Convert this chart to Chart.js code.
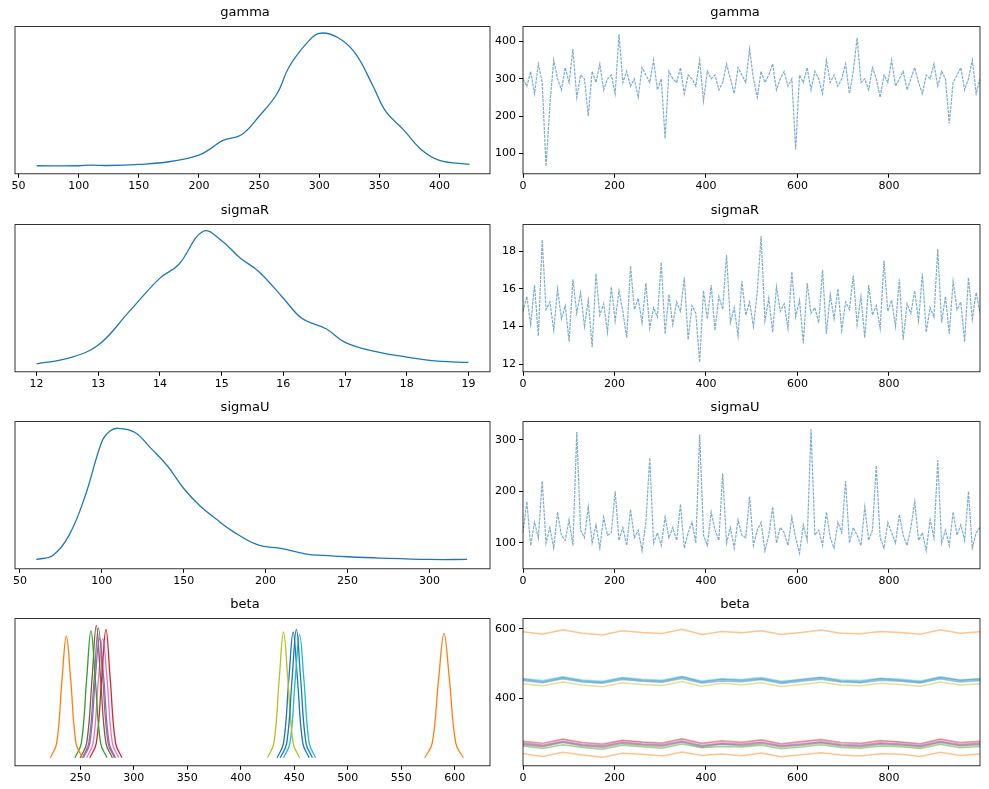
<!DOCTYPE html><html><head><meta charset="utf-8">
<script src="https://cdn.jsdelivr.net/npm/chart.js@4.4.1/dist/chart.umd.min.js"></script>
<style>body{margin:0;background:#fff;width:989px;height:789px;position:relative;overflow:hidden}
.c{position:absolute}</style></head><body>
<canvas id="c0" class="c"></canvas><canvas id="c1" class="c"></canvas>
<canvas id="c2" class="c"></canvas><canvas id="c3" class="c"></canvas>
<canvas id="c4" class="c"></canvas><canvas id="c5" class="c"></canvas>
<canvas id="c6" class="c"></canvas><canvas id="c7" class="c"></canvas>
<script>
// ---- data ----
const gammaKdeX=[65,100,110,125,150,175,200,210,220,235,250,265,275,290,300,315,330,345,355,370,385,400,425];
const gammaKdeY=[0.01,0.01,0.015,0.012,0.02,0.04,0.09,0.14,0.2,0.24,0.38,0.55,0.75,0.93,1.0,0.97,0.85,0.6,0.42,0.28,0.13,0.05,0.02];
const sigmaRKdeX=[12,12.5,13,13.5,14,14.3,14.7,15,15.3,15.6,16,16.3,16.7,17,17.5,18,18.5,19];
const sigmaRKdeY=[0.01,0.05,0.15,0.4,0.65,0.75,1.0,0.93,0.8,0.7,0.5,0.35,0.27,0.17,0.1,0.06,0.03,0.02];
const sigmaUKdeX=[60,70,80,90,100,105,110,120,130,140,150,160,170,180,195,210,225,235,250,270,300,323];
const sigmaUKdeY=[0.02,0.05,0.2,0.5,0.9,0.98,1.0,0.97,0.85,0.72,0.55,0.42,0.32,0.23,0.13,0.1,0.06,0.05,0.04,0.03,0.02,0.02];
const gammaTrace=[300,280,320,260,340,290,65,230,350,300,270,330,290,380,250,310,300,200,320,290,
340,270,300,310,260,420,290,320,280,300,250,330,310,290,350,270,300,140,320,300,
290,330,260,310,300,280,350,240,320,300,310,270,290,340,300,260,330,310,290,380,
300,250,320,290,310,340,270,300,320,280,300,110,310,290,330,270,320,300,260,350,
290,310,280,300,340,260,320,410,290,300,270,330,300,250,310,290,350,280,300,320,
270,300,330,290,260,310,300,340,280,320,300,180,290,310,330,270,300,350,260,300];
const sigmaRTrace=[14.8,15.6,14.1,16.2,13.5,18.6,14.9,15.3,13.8,16.0,14.4,15.1,13.2,16.5,14.7,15.8,14.0,15.4,12.9,16.8,
14.6,15.2,13.7,16.1,14.3,15.9,14.8,13.4,17.2,14.9,15.5,14.2,16.3,13.9,15.0,14.5,17.4,13.6,15.7,14.1,
15.3,14.8,16.6,13.3,15.1,14.7,12.1,15.9,14.4,16.2,13.8,15.6,14.9,17.8,14.2,15.0,13.5,16.4,14.6,15.3,
14.0,15.8,18.8,14.3,15.5,13.7,16.1,14.8,15.2,13.9,16.9,14.5,15.4,13.1,16.3,14.7,15.0,14.2,17.0,13.6,
15.7,14.4,16.0,13.8,15.3,14.9,16.7,14.1,15.6,13.4,16.2,14.6,15.1,13.9,17.5,14.8,15.4,14.0,16.5,13.3,
15.2,14.7,15.9,14.3,16.8,13.7,15.0,14.5,18.1,14.2,15.6,13.6,16.4,14.9,15.3,13.2,16.6,14.4,15.8,14.7];
const sigmaUTrace=[120,180,95,140,110,220,100,130,90,160,115,105,145,95,315,125,110,170,100,135,
90,150,115,120,200,105,130,95,165,110,125,85,140,265,100,120,95,150,110,130,
105,175,90,120,140,100,310,115,95,160,125,105,235,100,130,90,145,115,110,190,
95,125,140,85,115,170,100,130,120,95,150,110,80,135,105,320,115,125,95,160,
110,90,140,120,220,100,130,115,95,170,105,125,250,110,90,140,120,100,155,115,
95,130,180,105,120,85,145,110,260,100,125,95,160,115,135,105,200,90,120,130];
const betaColors=['#1f77b4','#ff7f0e','#2ca02c','#d62728','#9467bd','#8c564b','#e377c2','#7f7f7f','#bcbd22','#17becf','#1f77b4','#ff7f0e'];
const betaPeakX=[
[437,443,448,452,456,461,467],[222,228,233,237,241,246,252],[245,251,256,260,264,269,275],[259,265,270,274,278,283,289],
[253,259,264,268,272,277,283],[250,256,261,265,269,274,280],[256,262,267,271,275,280,286],[252,258,263,267,271,276,282],
[425,431,436,440,444,449,455],[440,446,451,455,459,464,470],[434,440,445,449,453,458,464],[572,579,585,590,595,601,608]];
const betaPeakY=[
[0.01,0.12,0.6,0.97,0.6,0.12,0.01],[0.01,0.12,0.6,0.92,0.6,0.12,0.01],[0.01,0.12,0.6,0.96,0.6,0.12,0.01],[0.01,0.12,0.6,0.97,0.6,0.12,0.01],
[0.01,0.12,0.6,0.9,0.6,0.12,0.01],[0.01,0.12,0.6,1.0,0.6,0.12,0.01],[0.01,0.12,0.6,0.9,0.6,0.12,0.01],[0.01,0.12,0.6,0.98,0.6,0.12,0.01],
[0.01,0.12,0.6,0.95,0.6,0.12,0.01],[0.01,0.12,0.6,0.93,0.6,0.12,0.01],[0.01,0.12,0.6,0.95,0.6,0.12,0.01],[0.01,0.12,0.6,0.94,0.6,0.12,0.01]];
const betaTraces=[
[455,448,460,450,446,458,452,449,461,447,454,451,457,446,453,459,450,448,456,452,447,460,451,455],
[240,232,244,236,230,241,238,233,245,235,239,234,242,231,237,243,236,233,240,238,232,244,235,239],
[262,255,266,258,253,264,260,256,268,257,261,259,264,254,259,266,258,256,262,260,255,267,257,261],
[276,270,282,272,268,279,274,271,283,270,277,273,280,269,275,281,272,270,278,274,269,282,272,276],
[270,264,275,266,262,273,268,265,276,263,269,267,273,263,268,274,266,264,271,268,263,275,266,270],
[266,260,272,262,258,269,264,261,273,259,267,263,269,259,264,271,262,260,267,264,259,272,262,266],
[273,266,280,269,265,277,272,268,281,267,274,270,277,266,272,279,269,267,275,272,266,280,269,273],
[269,262,275,265,261,272,267,264,276,263,270,266,272,262,267,274,265,263,270,267,262,275,265,269],
[442,436,447,438,433,445,440,437,448,435,443,439,445,434,440,446,438,436,443,440,435,447,438,442],
[457,451,462,453,449,460,455,452,463,450,456,454,460,449,455,461,453,451,458,455,450,462,453,457],
[451,445,456,447,443,454,449,446,457,444,450,448,454,443,449,455,447,445,452,449,444,456,447,451],
[592,585,598,588,583,595,590,587,599,584,593,589,595,584,590,597,588,586,593,590,585,598,588,592]];
const leftTicks=[[50,100,150,200,250,300,350,400],[12,13,14,15,16,17,18,19],[50,100,150,200,250,300],[250,300,350,400,450,500,550,600]];
const rightYTicks=[[100,200,300,400],[12,14,16,18],[100,200,300],[400,600]];
const traceXTicks=[0,200,400,600,800];
const titles=['gamma','sigmaR','sigmaU','beta'];
// ---- layout ----
const FONT="'DejaVu Sans'";
Chart.defaults.font.family=FONT;Chart.defaults.color='#000';Chart.defaults.animation=false;
const box={id:'box',afterDraw(c){const a=c.chartArea,x=c.ctx;x.save();x.strokeStyle='#000';x.lineWidth=0.8;x.strokeRect(a.left,a.top,a.right-a.left,a.bottom-a.top);x.restore();}};
const tops=[0,198,395,592];
function place(id,l,t,w,h){const e=document.getElementById(id);e.style.left=l+'px';e.style.top=t+'px';e.style.width=w+'px';e.style.height=h+'px';return e;}
function xs(ticks,min,max){return{type:'linear',min,max,afterBuildTicks:s=>{s.ticks=ticks.map(v=>({value:v}));},
 grid:{display:true,drawOnChartArea:false,drawTicks:true,tickLength:4,color:'#000'},border:{display:false},ticks:{font:{size:11},padding:2,maxRotation:0}};}
function base(datasets,xScale,yScale){return{type:'line',data:{datasets},plugins:[box],options:{responsive:false,devicePixelRatio:1,
 layout:{padding:{top:1,right:0,left:0,bottom:0}},plugins:{legend:{display:false},tooltip:{enabled:false},title:{display:true,font:{size:13,weight:'normal'},padding:{top:4,bottom:6}}},
 elements:{point:{radius:0}},scales:{x:xScale,y:yScale}}};}
const lranges=[[47,442],[11.65,19.35],[47,337],[189,633]];
const rranges=[[45,440],[11.6,19.4],[50,335],[205,630]];
const kdes=[[gammaKdeX,gammaKdeY],[sigmaRKdeX,sigmaRKdeY],[sigmaUKdeX,sigmaUKdeY]];
const traces=[gammaTrace,sigmaRTrace,sigmaUTrace];
for(let r=0;r<4;r++){
 let ds;
 if(r<3){ds=[{data:kdes[r][0].map((x,i)=>({x,y:kdes[r][1][i]})),borderColor:'#1f77b4',borderWidth:1.3,tension:0.4}];}
 else{ds=betaPeakX.map((xa,k)=>({data:xa.map((x,i)=>({x,y:betaPeakY[k][i]})),borderColor:betaColors[k],borderWidth:1.3,tension:0.4}));}
 const cfgL=base(ds,xs(leftTicks[r],lranges[r][0],lranges[r][1]),{min:-0.05,max:1.05,afterFit:s=>{s.width=15;},ticks:{display:false},grid:{display:false},border:{display:false}});
 cfgL.options.plugins.title.text=titles[r];cfgL.options.layout.padding.right=8;
 const cl=place('c'+(2*r),0,tops[r],498,195);cl.width=498;cl.height=195;
 new Chart(cl,cfgL);
 let tds;
 if(r<3){const t=traces[r];tds=[{data:t.map((y,i)=>({x:i*999/(t.length-1),y})),borderColor:'rgba(31,119,180,0.6)',borderWidth:1.2,borderDash:[3,1]}];}
 else{tds=betaTraces.map((t,k)=>({data:t.map((y,i)=>({x:i*999/(t.length-1),y})),borderColor:betaColors[k]+'77',borderWidth:1.5}));}
 const cfgR=base(tds,xs(traceXTicks,0,999),{min:rranges[r][0],max:rranges[r][1],afterFit:s=>{s.width=33;},afterBuildTicks:s=>{s.ticks=rightYTicks[r].map(v=>({value:v}));},
  ticks:{font:{size:11},padding:3},grid:{display:true,drawOnChartArea:false,tickLength:4,color:'#000'},border:{display:false}});
 cfgR.options.plugins.title.text=titles[r];cfgR.options.layout.padding.right=9;
 const cr=place('c'+(2*r+1),490,tops[r],499,195);cr.width=499;cr.height=195;
 new Chart(cr,cfgR);
}
</script></body></html>
